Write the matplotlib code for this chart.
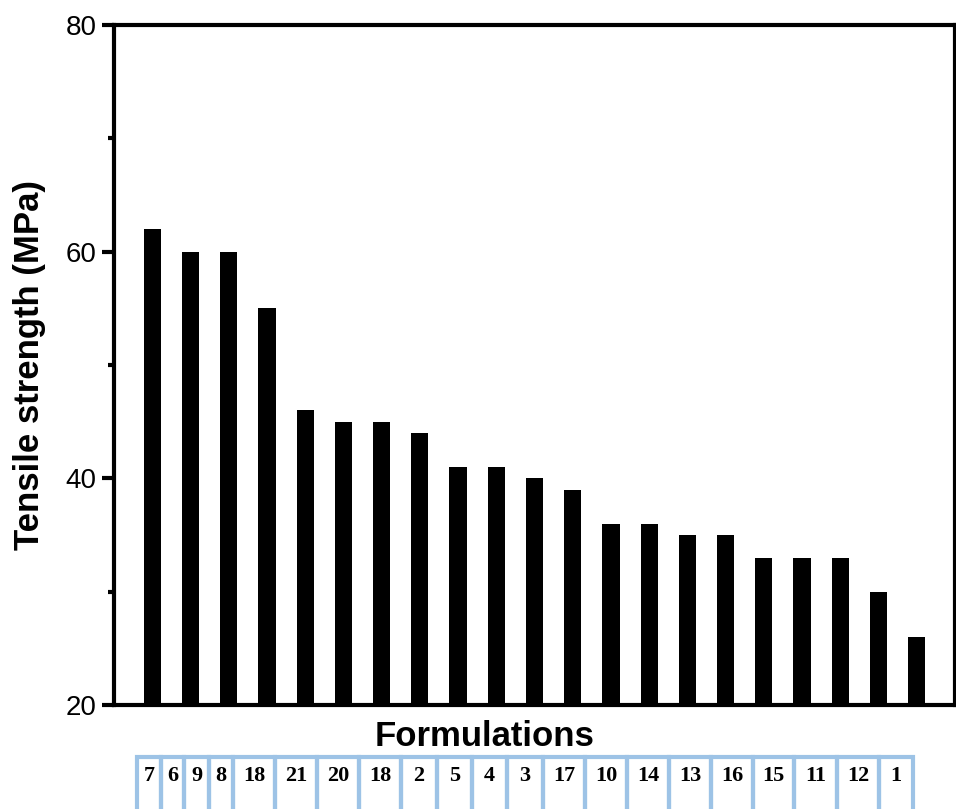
import matplotlib.pyplot as plt
from matplotlib.patches import Rectangle

# Tensile strength per formulation (sorted high to low)
formulations = ["7", "6", "9", "8", "18", "21", "20", "18", "2", "5", "4",
                "3", "17", "10", "14", "13", "16", "15", "11", "12", "1"]
strength = [62, 60, 60, 55, 46, 45, 45, 44, 41, 41, 40,
            39, 36, 36, 35, 35, 33, 33, 33, 30, 26]
yticks = [20, 40, 60, 80]

# pixel edges of the label table columns below the plot
col_edges = [137, 161, 184, 209, 233, 275, 317, 359, 401, 437, 472, 507,
             543, 585, 627, 669, 711, 753, 794, 837, 879, 913]

W, H = 956, 809
fig = plt.figure(figsize=(W / 100, H / 100), dpi=100)
ax = fig.add_axes([114 / W, 1 - 705 / H, (955 - 114) / W, (705 - 25) / H])

x = range(len(strength))
ax.bar(x, strength, width=0.45, color="black")
ax.set_xlim(-1, 21)
ax.set_ylim(20, 80)

ax.set_yticks(yticks)
ax.set_yticks([30, 50, 70], minor=True)
ax.set_yticklabels([str(t) for t in yticks], fontsize=20, family="Liberation Sans")
ax.tick_params(axis="y", which="major", direction="out", length=9, width=3)
ax.tick_params(axis="y", which="minor", direction="out", length=4, width=3)
ax.set_xticks([])
for s in ax.spines.values():
    s.set_linewidth(3)

ax.set_ylabel("Tensile strength (MPa)", fontsize=25, fontweight="bold",
              family="Liberation Sans", labelpad=14)
fig.text(485 / W, 1 - 737 / H, "Formulations", fontsize=25, fontweight="bold",
         family="Liberation Sans", ha="center", va="center")

# label table in light blue boxes (runs off the bottom of the figure)
top = 757
for i, lab in enumerate(formulations):
    x0, x1 = col_edges[i], col_edges[i + 1]
    fig.patches.append(Rectangle((x0 / W, -20 / H), (x1 - x0) / W, (H - top + 20) / H,
                                 transform=fig.transFigure, fill=False,
                                 edgecolor="#9dc3e6", linewidth=3))
    fig.text((x0 + x1) / 2 / W, 1 - 776 / H, lab, fontsize=16, fontweight="bold",
             family="Liberation Serif", ha="center", va="center")

fig.savefig("out.png", dpi=100)
